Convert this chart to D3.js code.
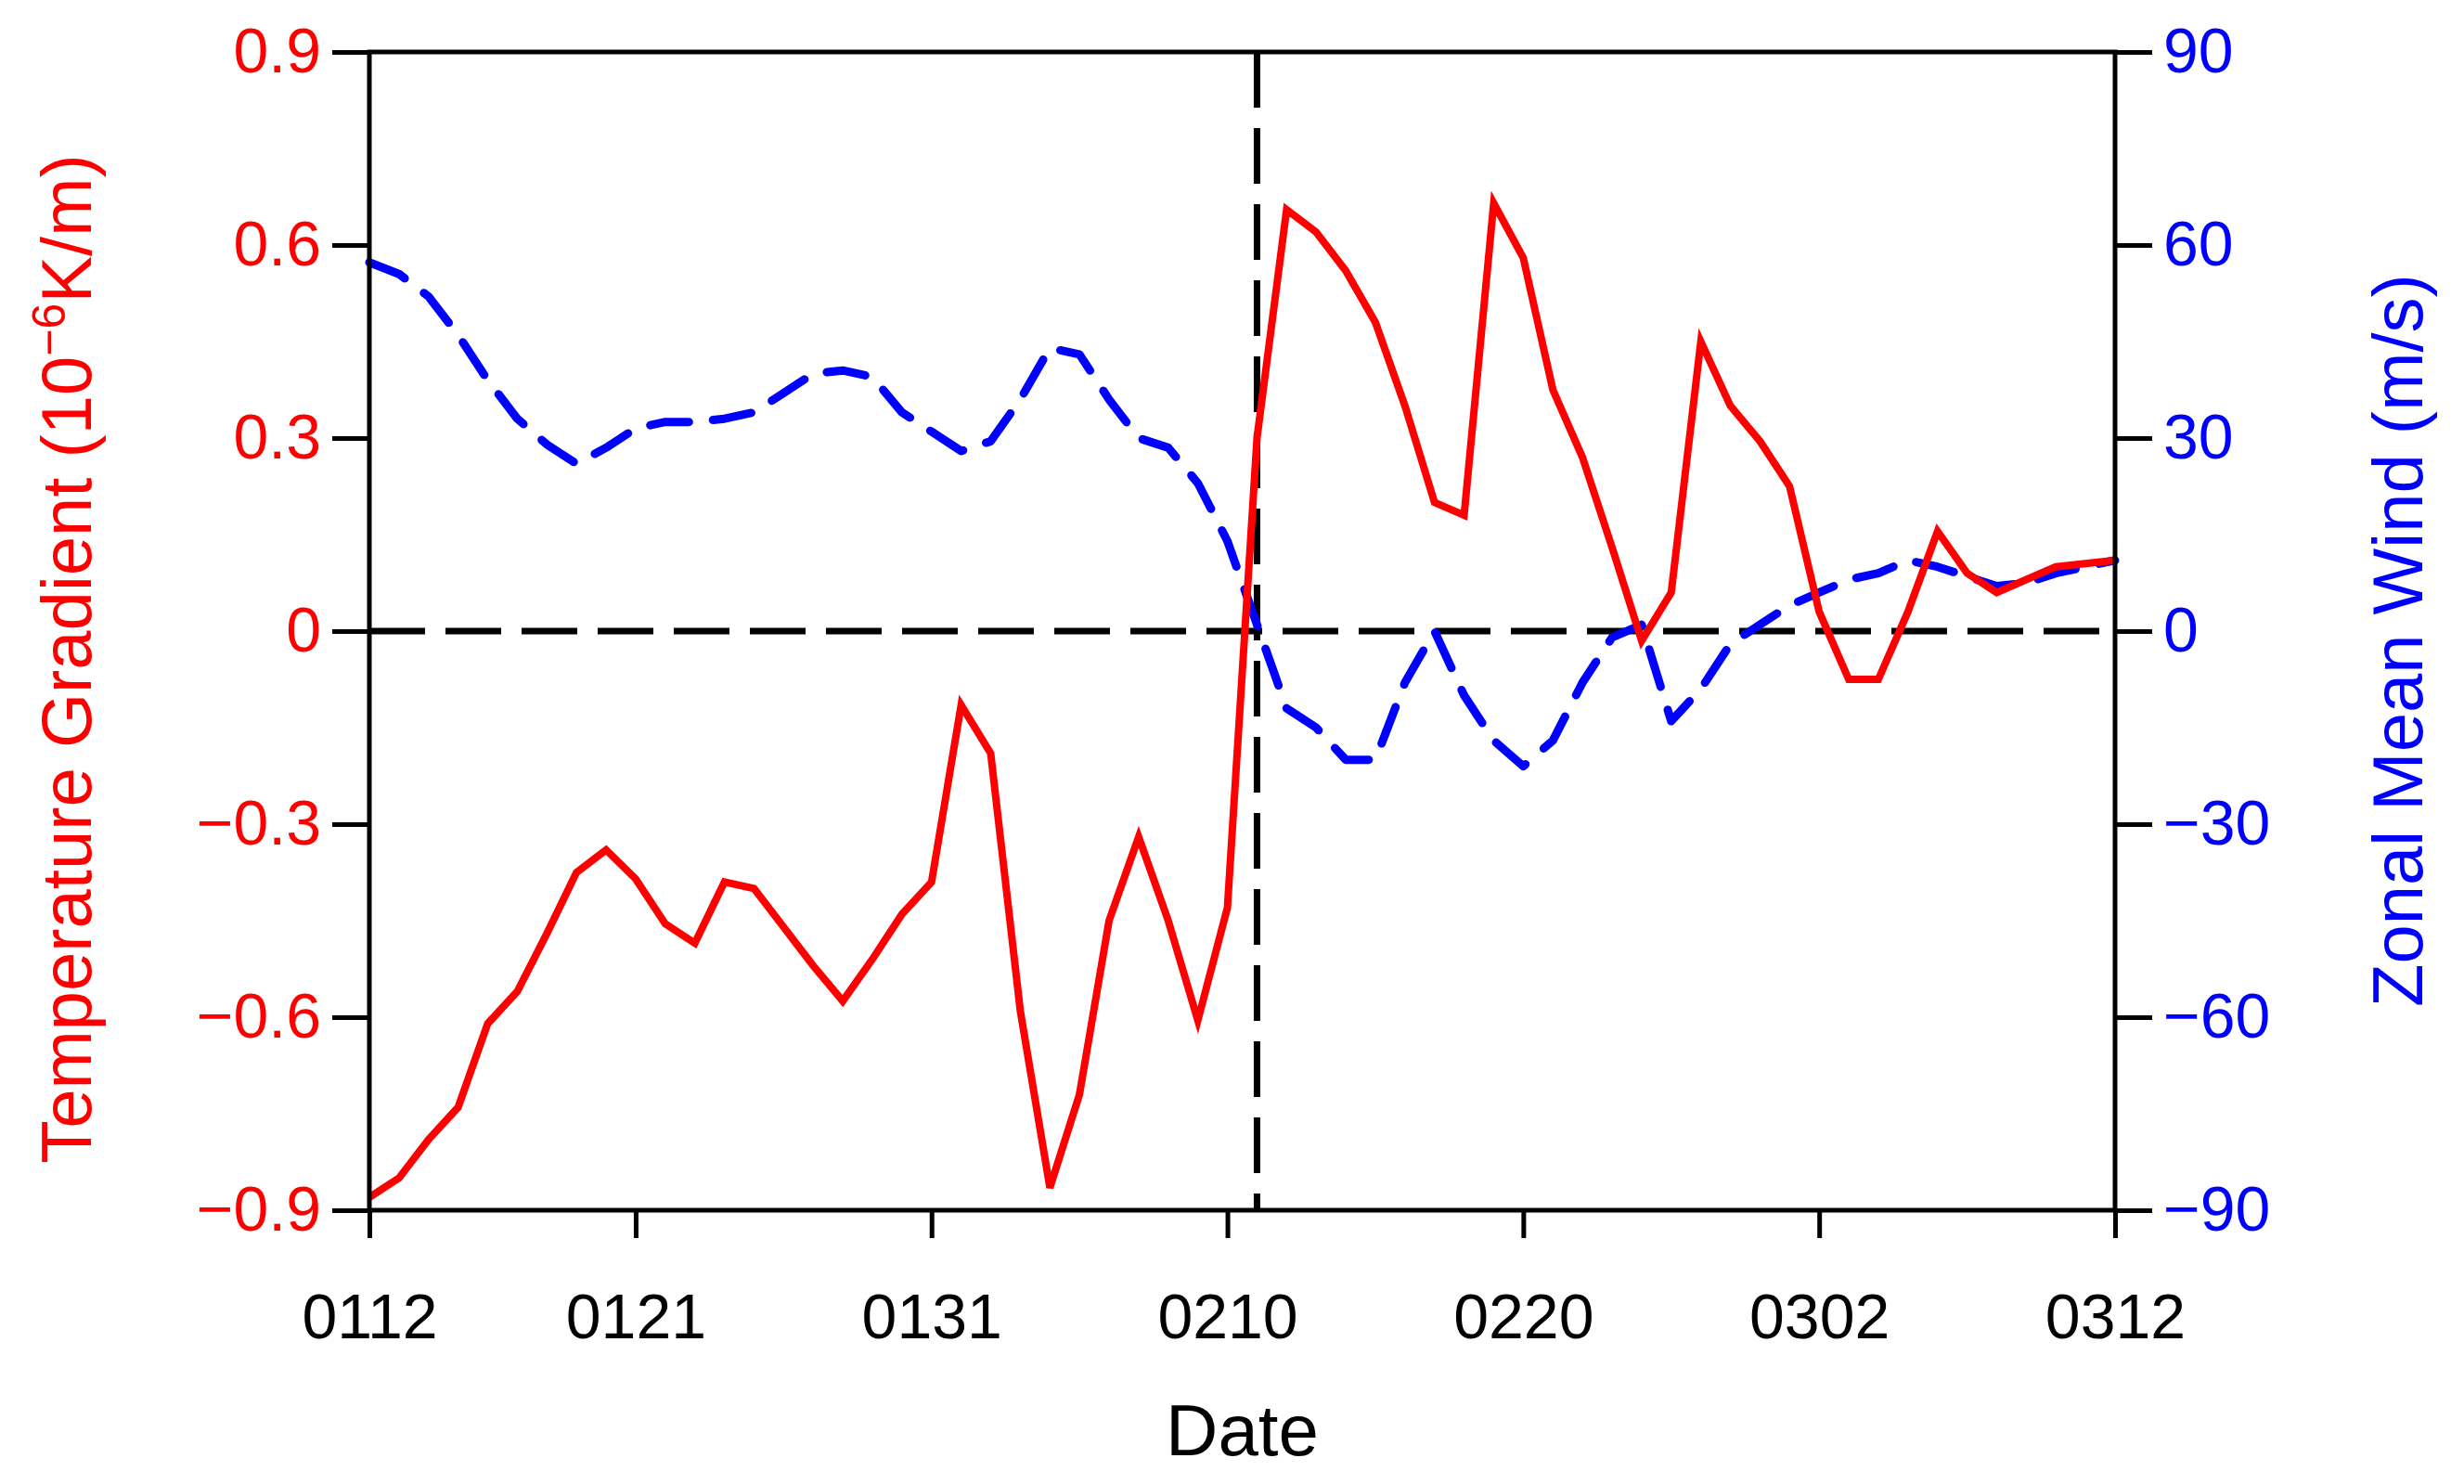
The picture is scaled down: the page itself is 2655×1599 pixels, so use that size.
<!DOCTYPE html>
<html><head><meta charset="utf-8">
<script src="https://cdn.jsdelivr.net/npm/d3@7"></script>
<style>body{margin:0;background:#fff}text{font-family:"Liberation Sans",Arial,sans-serif}</style>
</head><body><div id="chart"></div>
<script>
// daily values, 0112 .. 0312
const dayCount = 60;
const tempGrad = [-0.88,-0.85,-0.79,-0.74,-0.61,-0.56,-0.47,-0.375,-0.34,-0.385,
  -0.455,-0.485,-0.39,-0.40,-0.46,-0.52,-0.575,-0.51,-0.44,-0.39,
  -0.115,-0.19,-0.59,-0.865,-0.72,-0.45,-0.32,-0.45,-0.605,-0.43,
  0.30,0.655,0.62,0.56,0.48,0.35,0.20,0.18,0.665,0.58,
  0.375,0.27,0.13,-0.015,0.06,0.45,0.35,0.295,0.225,0.03,
  -0.075,-0.075,0.03,0.155,0.09,0.06,0.08,0.10,0.105,0.11];
const zonalWind = [57.3,55.5,52,46,39,33,29,26,28.5,31.5,
  32.5,32.5,33,34,37,40,40.5,39.5,34,31,
  28,29.5,36,44,43,36,30,28.5,23,14,
  1,-12,-15,-20,-20,-8,0,-10,-17,-21,
  -17,-8,-1,1,-14,-9,-2,1,4,6,
  8,9,11,10,8.5,7,7.5,9,10,11];
const dateTicks = [0,9,19,29,39,49,59];
const dateLabels = ["0112","0121","0131","0210","0220","0302","0312"];
const leftTicks = [-0.9,-0.6,-0.3,0,0.3,0.6,0.9];
const rightTicks = [-90,-60,-30,0,30,60,90];
const eventDay = 30;

const W = 2655, H = 1599;
const L = 398, R = 2279, T = 56, B = 1304;
const svg = d3.select("#chart").append("svg").attr("width", W).attr("height", H);

const x = d3.scaleLinear().domain([0, dayCount - 1]).range([L, R]);
const yL = d3.scaleLinear().domain([-0.9, 0.9]).range([B, T]);
const yR = d3.scaleLinear().domain([-90, 90]).range([B, T]);

const fmt = v => (v < 0 ? "\u2212" : "") + (v === 0 ? "0" : Math.abs(v).toString());
const fs = 68;

// zero line and event line
svg.append("line").attr("x1", L).attr("x2", R).attr("y1", yL(0)).attr("y2", yL(0))
  .attr("stroke", "#000").attr("stroke-width", 7).attr("stroke-dasharray", "60,22");
svg.append("line").attr("x1", x(eventDay)).attr("x2", x(eventDay)).attr("y1", T).attr("y2", B)
  .attr("stroke", "#000").attr("stroke-width", 7).attr("stroke-dasharray", "60,22");

// series
svg.append("path").datum(zonalWind)
  .attr("fill", "none").attr("stroke", "#0000ff").attr("stroke-width", 9)
  .attr("stroke-dasharray", "42,26").attr("stroke-linejoin", "round").attr("stroke-linecap", "round")
  .attr("d", d3.line().x((d, i) => x(i)).y(d => yR(d)));
svg.append("path").datum(tempGrad)
  .attr("fill", "none").attr("stroke", "#ff0000").attr("stroke-width", 8)
  .attr("stroke-linejoin", "miter")
  .attr("d", d3.line().x((d, i) => x(i)).y(d => yL(d)));

// frame
svg.append("rect").attr("x", L).attr("y", T).attr("width", R - L).attr("height", B - T)
  .attr("fill", "none").attr("stroke", "#000").attr("stroke-width", 5);

// axes
const styleAxis = (g, color) => {
  g.select(".domain").remove();
  g.selectAll("line").attr("stroke", "#000").attr("stroke-width", 5);
  g.selectAll("text").attr("fill", color).style("font-size", fs + "px");
};
svg.append("g").attr("transform", `translate(${L},0)`)
  .call(d3.axisLeft(yL).tickValues(leftTicks).tickSize(40).tickPadding(12).tickFormat(fmt))
  .call(g => styleAxis(g, "#ff0000"));
svg.append("g").attr("transform", `translate(${R},0)`)
  .call(d3.axisRight(yR).tickValues(rightTicks).tickSize(40).tickPadding(12).tickFormat(fmt))
  .call(g => styleAxis(g, "#0000ff"));
svg.append("g").attr("transform", `translate(0,${B})`)
  .call(d3.axisBottom(x).tickValues(dateTicks).tickSize(30).tickPadding(60)
    .tickFormat((d, i) => dateLabels[i]))
  .call(g => styleAxis(g, "#000"));

// titles
svg.append("text").attr("x", (L + R) / 2).attr("y", 1568).attr("text-anchor", "middle")
  .style("font-size", "78px").text("Date");
const lt = svg.append("text").attr("transform", `translate(98,${(T + B) / 2 + 30}) rotate(-90)`)
  .attr("text-anchor", "middle").attr("fill", "#ff0000").style("font-size", "76px");
lt.append("tspan").text("Temperature Gradient (10");
lt.append("tspan").attr("dy", -28).style("font-size", "50px").text("\u22126");
lt.append("tspan").attr("dy", 28).text("K/m)");
svg.append("text").attr("transform", `translate(2610,${(T + B) / 2 + 10}) rotate(-90)`)
  .attr("text-anchor", "middle").attr("fill", "#0000ff").style("font-size", "76px")
  .text("Zonal Mean Wind (m/s)");
</script></body></html>
